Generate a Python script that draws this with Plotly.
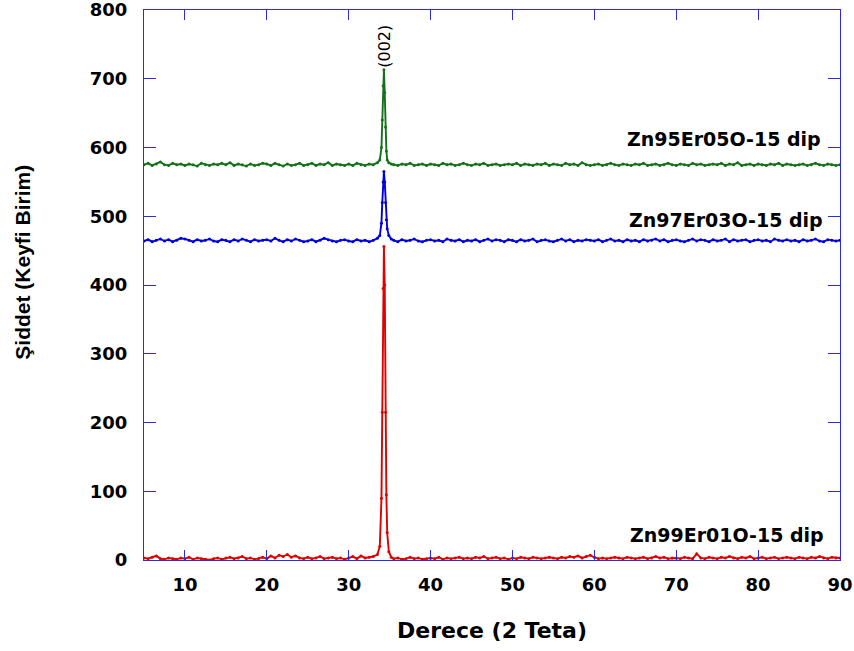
import plotly.graph_objects as go

# 2-theta sampling positions (degrees)
two_theta = [
    5.0, 5.5, 6.0, 6.5, 7.0, 7.5, 8.0, 8.5, 9.0, 9.5,
    10.0, 10.5, 11.0, 11.5, 12.0, 12.5, 13.0, 13.5, 14.0, 14.5,
    15.0, 15.5, 16.0, 16.5, 17.0, 17.5, 18.0, 18.5, 19.0, 19.5,
    20.0, 20.5, 21.0, 21.5, 22.0, 22.5, 23.0, 23.5, 24.0, 24.5,
    25.0, 25.5, 26.0, 26.5, 27.0, 27.5, 28.0, 28.5, 29.0, 29.5,
    30.0, 30.5, 31.0, 31.5, 32.0, 32.5, 33.0, 33.5,
    33.8, 34.0, 34.1, 34.2, 34.3, 34.4, 34.5, 34.6, 34.7, 34.9, 35.2,
    35.5, 36.0, 36.5, 37.0, 37.5, 38.0, 38.5, 39.0, 39.5,
    40.0, 40.5, 41.0, 41.5, 42.0, 42.5, 43.0, 43.5, 44.0, 44.5,
    45.0, 45.5, 46.0, 46.5, 47.0, 47.5, 48.0, 48.5, 49.0, 49.5,
    50.0, 50.5, 51.0, 51.5, 52.0, 52.5, 53.0, 53.5, 54.0, 54.5,
    55.0, 55.5, 56.0, 56.5, 57.0, 57.5, 58.0, 58.5, 59.0, 59.5,
    60.0, 60.5, 61.0, 61.5, 62.0, 62.5, 63.0, 63.5, 64.0, 64.5,
    65.0, 65.5, 66.0, 66.5, 67.0, 67.5, 68.0, 68.5, 69.0, 69.5,
    70.0, 70.5, 71.0, 71.5, 72.0, 72.5, 73.0, 73.5, 74.0, 74.5,
    75.0, 75.5, 76.0, 76.5, 77.0, 77.5, 78.0, 78.5, 79.0, 79.5,
    80.0, 80.5, 81.0, 81.5, 82.0, 82.5, 83.0, 83.5, 84.0, 84.5,
    85.0, 85.5, 86.0, 86.5, 87.0, 87.5, 88.0, 88.5, 89.0, 89.5,
    90.0,
]

zn99_er01 = [
    3, 2, 4, 6, 2, 1, 3, 2, 1, 3,
    2, 4, 1, 3, 2, 1, 0, 2, 3, 1,
    3, 4, 2, 3, 5, 2, 3, 1, 2, 4,
    2, 6, 3, 7, 5, 8, 4, 6, 3, 2,
    4, 2, 3, 5, 2, 3, 4, 2, 3, 1,
    3, 5, 2, 6, 3, 4, 5, 8,
    20, 90, 215, 395, 456, 400, 215, 95, 40, 12, 4,
    2, 3, 1, 2, 4, 2, 3, 1, 2,
    3, 2, 4, 1, 3, 2, 3, 4, 2, 3,
    2, 4, 3, 5, 2, 3, 4, 2, 3, 1,
    3, 2, 4, 3, 2, 4, 3, 2, 3, 4,
    3, 2, 4, 3, 5, 4, 6, 3, 5, 7,
    4, 2, 3, 2, 3, 4, 3, 2, 4, 3,
    2, 3, 4, 2, 3, 5, 3, 4, 2, 3,
    3, 2, 4, 3, 2, 9, 3, 2, 4, 3,
    2, 4, 3, 5, 3, 2, 4, 3, 5, 2,
    3, 4, 2, 3, 4, 2, 3, 4, 3, 2,
    4, 3, 2, 4, 3, 5, 3, 2, 4, 3,
    3,
]

zn97_er03 = [
    464, 466, 463, 465, 467, 464, 466, 463, 465, 468,
    467, 465, 463, 466, 464, 465, 467, 464, 463, 466,
    465, 463, 466, 464, 467, 465, 463, 466, 464, 465,
    466, 464, 468, 465, 463, 466, 464, 467, 465, 463,
    464, 466, 463, 465, 468, 466, 464, 463, 465, 466,
    464, 463, 466, 464, 465, 463, 465, 468,
    472, 490, 520, 550, 565, 550, 520, 495, 482, 472, 467,
    465, 463, 466, 464, 465, 467, 464, 463, 465,
    466, 464, 465, 463, 467, 465, 464, 466, 463, 465,
    464, 466, 463, 465, 467, 464, 466, 465, 463, 466,
    465, 463, 466, 464, 465, 467, 463, 465, 466, 464,
    463, 465, 467, 464, 466, 463, 465, 464, 466, 465,
    464, 466, 463, 465, 467, 464, 465, 463, 466, 464,
    465, 463, 466, 464, 465, 467, 464, 466, 463, 465,
    466, 464, 463, 465, 467, 464, 466, 465, 463, 466,
    464, 465, 467, 463, 466, 464, 465, 466, 463, 465,
    466, 464, 465, 463, 467, 465, 464, 466, 464, 465,
    463, 466, 464, 465, 467, 464, 463, 466, 465, 464,
    465,
]

zn95_er05 = [
    575, 577, 574, 576, 579, 575, 574, 577, 575, 576,
    574, 576, 575, 573, 577, 575, 574, 576, 575, 577,
    575, 578, 574, 576, 575, 573, 576, 574, 575, 577,
    576, 574, 577, 575, 573, 576, 574, 575, 577, 574,
    575, 577, 574, 576, 575, 578, 574, 576, 575, 574,
    576, 574, 577, 575, 574, 576, 575, 578,
    582, 600, 640, 690, 713, 680, 630, 595, 582, 578, 576,
    575, 574, 576, 575, 577, 574, 575, 576, 574,
    576, 575, 574, 577, 575, 576, 574, 575, 577, 575,
    574, 576, 575, 577, 574, 575, 576, 574, 575, 576,
    575, 577, 574, 576, 575, 574, 576, 575, 577, 574,
    576, 575, 574, 577, 575, 576, 574, 578, 575, 574,
    575, 576, 574, 575, 577, 575, 574, 576, 575, 574,
    576, 575, 577, 574, 575, 576, 574, 575, 577, 575,
    574, 576, 575, 574, 577, 575, 576, 574, 575, 576,
    575, 577, 574, 576, 575, 578, 574, 575, 576, 574,
    576, 575, 574, 576, 575, 577, 574, 576, 575, 574,
    575, 576, 574, 575, 577, 575, 574, 576, 575, 574,
    575,
]

series_names = ["Zn99Er01O-15 dip", "Zn97Er03O-15 dip", "Zn95Er05O-15 dip"]
series_values = [zn99_er01, zn97_er03, zn95_er05]
series_colors = ["#e00000", "#0000dd", "#137218"]

x_ticks = [10, 20, 30, 40, 50, 60, 70, 80, 90]
y_ticks = [0, 100, 200, 300, 400, 500, 600, 700, 800]
peak_label = "(002)"
peak_pos = 34.35
x_title = "Derece (2 Teta)"
y_title = "Şiddet (Keyfi Birim)"

fig = go.Figure()
for name, vals, col in zip(series_names, series_values, series_colors):
    fig.add_trace(go.Scatter(
        x=two_theta, y=vals, mode="lines+markers", name=name,
        line=dict(color=col, width=1.9),
        marker=dict(color=col, size=3),
        showlegend=False,
    ))

WIDE = "DejaVu Sans, Verdana, sans-serif"
NARROW = "Liberation Sans, Arial, sans-serif"
axis_blue = "#2b2be0"

fig.update_layout(
    width=854, height=651,
    margin=dict(l=144, r=14, t=10, b=91),
    paper_bgcolor="white", plot_bgcolor="white",
    font=dict(family=WIDE, size=18, color="black", weight="bold"),
    xaxis=dict(
        range=[5, 90], tickvals=x_ticks, ticktext=[str(t) for t in x_ticks],
        showline=True, linecolor=axis_blue, linewidth=1.2, mirror="ticks",
        ticks="inside", ticklen=10, tickcolor=axis_blue, tickwidth=1.2,
        showgrid=False, zeroline=False, ticklabelstandoff=8, automargin=False,
        ticklabeloverflow="allow",
        tickfont=dict(family=WIDE, size=18, weight="bold", color="black"),
    ),
    yaxis=dict(
        range=[0, 800], tickvals=y_ticks, ticktext=[str(t) for t in y_ticks],
        showline=True, linecolor=axis_blue, linewidth=1.2, mirror="ticks",
        ticks="inside", ticklen=12, tickcolor=axis_blue, tickwidth=1.2,
        showgrid=False, zeroline=False, ticklabelstandoff=12, automargin=False,
        ticklabeloverflow="allow",
        tickfont=dict(family=WIDE, size=18, weight="bold", color="black"),
    ),
)

annotations = [
    dict(text=series_names[2], xref="paper", yref="paper", x=0.976, y=0.766,
         xanchor="right", yanchor="middle", showarrow=False,
         font=dict(family=WIDE, size=19, weight="bold", color="black")),
    dict(text=series_names[1], xref="paper", yref="paper", x=0.978, y=0.619,
         xanchor="right", yanchor="middle", showarrow=False,
         font=dict(family=WIDE, size=19, weight="bold", color="black")),
    dict(text=series_names[0], xref="paper", yref="paper", x=0.98, y=0.045,
         xanchor="right", yanchor="middle", showarrow=False,
         font=dict(family=WIDE, size=19, weight="bold", color="black")),
    dict(text=peak_label, xref="x", yref="y", x=peak_pos, y=747,
         xanchor="center", yanchor="middle", textangle=-90, showarrow=False,
         font=dict(family=WIDE, size=16, weight="normal", color="black")),
    dict(text=x_title, xref="paper", yref="paper", x=0.5, y=-0.129,
         xanchor="center", yanchor="middle", showarrow=False,
         font=dict(family=WIDE, size=22, weight="bold", color="black")),
    dict(text=y_title, xref="paper", yref="paper", x=-0.175, y=0.541,
         xanchor="center", yanchor="middle", textangle=-90, showarrow=False,
         font=dict(family=NARROW, size=21, weight="bold", color="black")),
]
fig.update_layout(annotations=annotations)

fig.write_html(
    "out.html",
    config={"displayModeBar": False},
    post_script="document.body.style.margin='0';document.body.style.padding='0';",
)
